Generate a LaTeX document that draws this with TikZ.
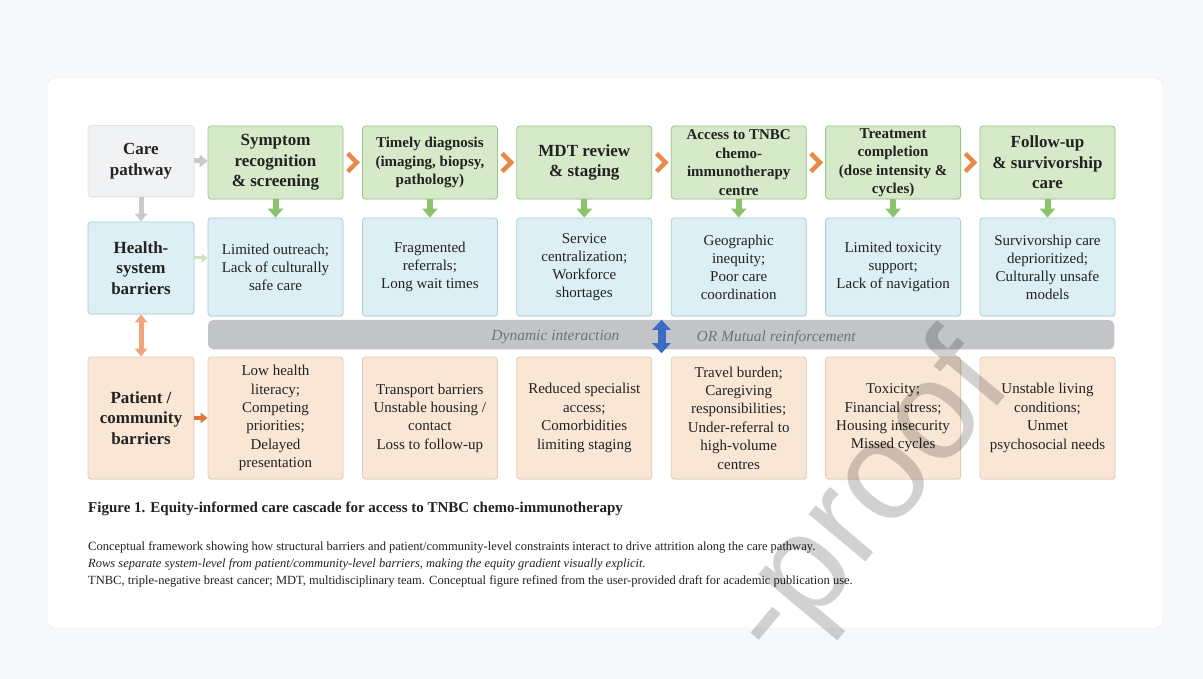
\documentclass[tikz,border=0pt]{standalone}
\usepackage{fontspec}
\setmainfont{Liberation Serif}
\newfontfamily\wmfont{Liberation Sans}
\usetikzlibrary{arrows.meta,calc,shadows}

\definecolor{pagebg}{HTML}{F6F8FA}
\definecolor{cardline}{HTML}{E6E9ED}
\definecolor{stagefill}{HTML}{D6E9C8}
\definecolor{stageline}{HTML}{9EC58A}
\definecolor{hsfill}{HTML}{DCEFF4}
\definecolor{hsline}{HTML}{A9CFDB}
\definecolor{pcfill}{HTML}{F9E6D5}
\definecolor{pcline}{HTML}{E6CCB5}
\definecolor{labfill}{HTML}{F1F2F4}
\definecolor{labline}{HTML}{E2E4E7}
\definecolor{bandfill}{HTML}{C2C4C7}
\definecolor{bandink}{HTML}{70757B}
\definecolor{chev}{HTML}{E8894A}
\definecolor{linkgreen}{HTML}{8CC26C}
\definecolor{linkpale}{HTML}{CDE5BA}
\definecolor{linkgray}{HTML}{C8C9CC}
\definecolor{linkpeach}{HTML}{F2A47C}
\definecolor{linkorange}{HTML}{DE7436}
\definecolor{linkblue}{HTML}{3B6CC2}
\definecolor{ink}{HTML}{222222}

\tikzset{
  cell/.style={draw, line width=0.8pt, rounded corners=3pt, align=center, inner sep=2pt, text=ink,
    drop shadow={opacity=0.12, shadow xshift=0.6pt, shadow yshift=-1.2pt}},
  stage/.style={cell, fill=stagefill, draw=stageline, minimum width=135pt, minimum height=73pt,
    font=\fontsize{17}{20.5}\selectfont\bfseries},
  stagesm/.style={stage, font=\fontsize{15}{18.5}\selectfont\bfseries},
  rowlabel/.style={cell, minimum width=106pt, font=\fontsize{17}{20.5}\selectfont\bfseries},
  hsbox/.style={cell, fill=hsfill, draw=hsline, minimum width=135pt, minimum height=98pt,
    font=\fontsize{15}{18}\selectfont},
  pcbox/.style={cell, fill=pcfill, draw=pcline, minimum width=135pt, minimum height=122pt,
    font=\fontsize{15}{18.4}\selectfont},
  band/.style={fill=bandfill, rounded corners=5pt, minimum width=906pt, minimum height=29pt,
    drop shadow={opacity=0.12, shadow xshift=0.6pt, shadow yshift=-1.2pt}},
  bandtext/.style={text=bandink, font=\fontsize{15.5}{17}\selectfont\itshape, inner sep=0pt},
  note/.style={anchor=base west, inner sep=0pt, text=ink, font=\fontsize{12.5}{15}\selectfont},
  chevron/.style={draw=chev, line width=4.5pt},
  downlink/.style={draw=linkgreen, line width=6pt, -{Triangle[width=15pt,length=9pt]}},
  graylink/.style={draw=linkgray, line width=5pt, -{Triangle[width=12pt,length=8pt]}},
  palelink/.style={draw=linkpale, line width=3pt, -{Triangle[width=9pt,length=6pt]}},
  orangelink/.style={draw=linkorange, line width=4pt, -{Triangle[width=10pt,length=7pt]}},
  peachlink/.style={draw=linkpeach, line width=5pt, {Triangle[width=12pt,length=8pt]}-{Triangle[width=12pt,length=8pt]}},
  bluelink/.style={draw=linkblue, line width=8pt, {Triangle[width=18pt,length=10pt]}-{Triangle[width=18pt,length=10pt]}}
}

\begin{document}
\begin{tikzpicture}[x=1pt, y=-1pt]
  % page and card
  \fill[pagebg] (0,0) rectangle (1203,679);
  \useasboundingbox (0,0) rectangle (1203,679);
  \draw[cardline, fill=white, rounded corners=8pt] (47,78) rectangle (1163,628);

  % row labels
  \node[rowlabel, fill=labfill, draw=labline, minimum height=71pt] (care) at (141,161) {Care\\pathway};
  \node[rowlabel, fill=hsfill, draw=hsline, minimum height=92pt] (hsys) at (141,268) {Health-\\system\\barriers};
  \node[rowlabel, fill=pcfill, draw=pcline, minimum height=122pt] (comm) at (141,418) {Patient /\\community\\barriers};

  % care pathway stages
  \node[stage] (s1) at (275.5,162.5) {Symptom\\recognition\\\& screening};
  \node[stagesm] (s2) at (429.9,162.5) {Timely diagnosis\\(imaging, biopsy,\\pathology)};
  \node[stage] (s3) at (584.3,162.5) {MDT review\\\& staging};
  \node[stagesm] (s4) at (738.7,162.5) {Access to TNBC\\chemo-\\immunotherapy\\centre};
  \node[stagesm] (s5) at (893.1,162.5) {Treatment\\completion\\(dose intensity \&\\cycles)};
  \node[stage] (s6) at (1047.5,162.5) {Follow-up\\\& survivorship\\care};

  % health-system barriers
  \node[hsbox] (h1) at (275.5,267) {Limited outreach;\\Lack of culturally\\safe care};
  \node[hsbox] (h2) at (429.9,267) {Fragmented\\referrals;\\Long wait times};
  \node[hsbox] (h3) at (584.3,267) {Service\\centralization;\\Workforce\\shortages};
  \node[hsbox] (h4) at (738.7,267) {Geographic\\inequity;\\Poor care\\coordination};
  \node[hsbox] (h5) at (893.1,267) {Limited toxicity\\support;\\Lack of navigation};
  \node[hsbox] (h6) at (1047.5,267) {Survivorship care\\deprioritized;\\Culturally unsafe\\models};

  % interaction band
  \node[band] (band) at (661,334.5) {};

  % patient / community barriers
  \node[pcbox] (p1) at (275.5,418) {Low health\\literacy;\\Competing\\priorities;\\Delayed\\presentation};
  \node[pcbox] (p2) at (429.9,418) {Transport barriers\\Unstable housing /\\contact\\Loss to follow-up};
  \node[pcbox] (p3) at (584.3,418) {Reduced specialist\\access;\\Comorbidities\\limiting staging};
  \node[pcbox] (p4) at (738.7,418) {Travel burden;\\Caregiving\\responsibilities;\\Under-referral to\\high-volume\\centres};
  \node[pcbox] (p5) at (893.1,418) {Toxicity;\\Financial stress;\\Housing insecurity\\Missed cycles};
  \node[pcbox] (p6) at (1047.5,418) {Unstable living\\conditions;\\Unmet\\psychosocial needs};

  % chevrons between stages
  \draw[chevron] ($(s1.east)!0.5!(s2.west)+(-5,-9)$) -- ++(9,9) -- ++(-9,9);
  \draw[chevron] ($(s2.east)!0.5!(s3.west)+(-5,-9)$) -- ++(9,9) -- ++(-9,9);
  \draw[chevron] ($(s3.east)!0.5!(s4.west)+(-5,-9)$) -- ++(9,9) -- ++(-9,9);
  \draw[chevron] ($(s4.east)!0.5!(s5.west)+(-5,-9)$) -- ++(9,9) -- ++(-9,9);
  \draw[chevron] ($(s5.east)!0.5!(s6.west)+(-5,-9)$) -- ++(9,9) -- ++(-9,9);

  % stage -> barrier links
  \draw[downlink] (s1.south) -- (h1.north);
  \draw[downlink] (s2.south) -- (h2.north);
  \draw[downlink] (s3.south) -- (h3.north);
  \draw[downlink] (s4.south) -- (h4.north);
  \draw[downlink] (s5.south) -- (h5.north);
  \draw[downlink] (s6.south) -- (h6.north);

  % row label links
  \draw[graylink] (care.east) -- (care.east -| s1.west);
  \draw[graylink] (care.south) -- (hsys.north);
  \draw[palelink] ([yshift=10pt]hsys.east) -- ([yshift=10pt]hsys.east -| h1.west);
  \draw[peachlink] (hsys.south) -- (comm.north);
  \draw[orangelink] (comm.east) -- (comm.east -| p1.west);

  % two-way link on the band
  \coordinate (g34) at ($(s3.east)!0.5!(s4.west)$);
  \draw[bluelink] (g34 |- band.north) -- ($(g34 |- band.south)+(0,4)$);
  \node[bandtext, anchor=east] (dyn) at ($(g34 |- band.center)+(-42,3)$) {Dynamic interaction};
  \node[bandtext, anchor=west] (mut) at ($(g34 |- band.center)+(35,3)$) {OR Mutual reinforcement};

  % caption
  \node[anchor=base west, inner sep=0pt, text=ink, font=\fontsize{15}{17}\selectfont\bfseries] (title) at (88,512)
    {Figure 1. Equity-informed care cascade for access to TNBC chemo-immunotherapy};
  \node[note] (note1) at (88,550) {Conceptual framework showing how structural barriers and patient/community-level constraints interact to drive attrition along the care pathway.};
  \node[note, font=\fontsize{12.5}{15}\selectfont\itshape] (note2) at (88,567) {Rows separate system-level from patient/community-level barriers, making the equity gradient visually explicit.};
  \node[note] (note3) at (88,584) {TNBC, triple-negative breast cancer; MDT, multidisciplinary team. Conceptual figure refined from the user-provided draft for academic publication use.};

  % watermark
  \node[rotate=50, anchor=base east, inner sep=0pt, text=black, opacity=0.18,
    font=\wmfont\fontsize{140}{140}\selectfont] (wm) at (1015,385) {-proof};
\end{tikzpicture}
\end{document}
